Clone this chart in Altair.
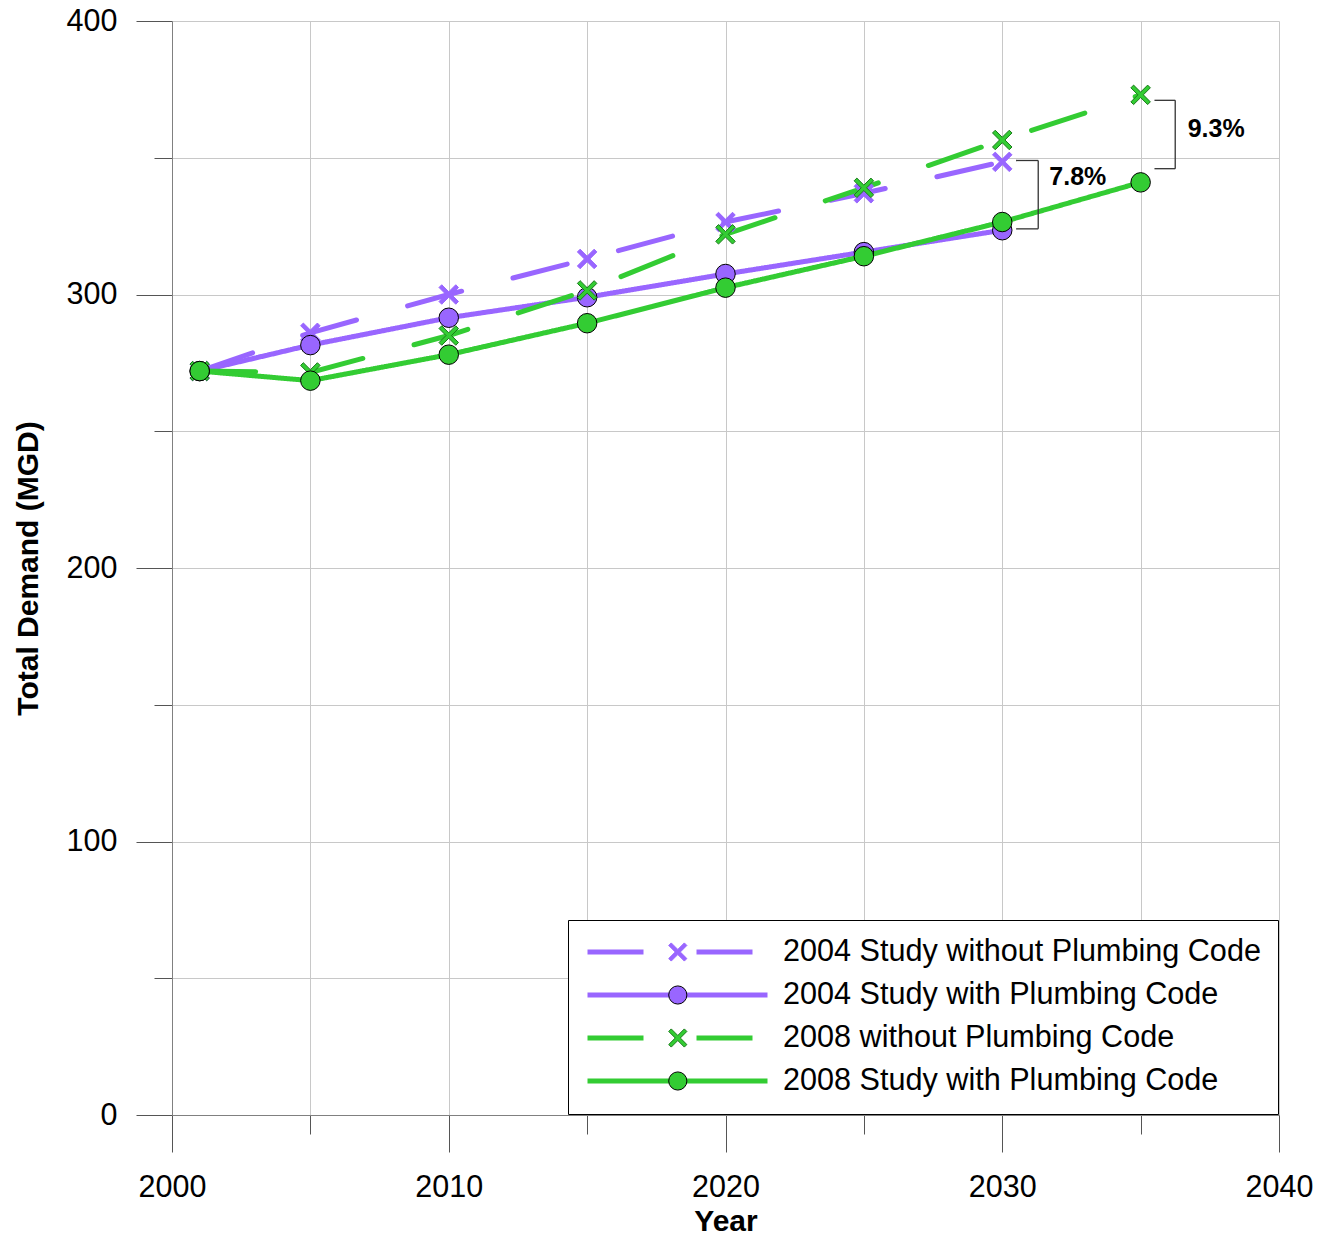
import altair as alt
import pandas as pd

FONT = "Liberation Sans"

years = [2001, 2005, 2010, 2015, 2020, 2025, 2030, 2035]

series_names = [
    "2004 Study without Plumbing Code",
    "2004 Study with Plumbing Code",
    "2008 without Plumbing Code",
    "2008 Study with Plumbing Code",
]

demand_2004_without = [272, 286, 300, 313, 326.5, 337, 348.5, None]
demand_2004_with = [272, 281.5, 291.5, 299, 307.5, 315.5, 323.5, None]
demand_2008_without = [272, 271.5, 285, 301.5, 322, 339, 356.5, 373]
demand_2008_with = [272, 268.5, 278, 289.5, 302.5, 314, 326.5, 341]

bracket_labels = ["7.8%", "9.3%"]
bracket_top = [349, 371]
bracket_bottom = [324, 346]
bracket_left = [2030.5, 2035.5]
bracket_right = [2031.3, 2036.25]
label_year = [2031.7, 2036.7]
label_demand = [343, 360.5]

purple = "#9966ff"
green = "#33cc33"
dark_green = "#1a7a1a"
x_path = ("M-0.72,-1L0,-0.28L0.72,-1L1,-0.72L0.28,0L1,0.72L0.72,1L0,0.28"
          "L-0.72,1L-1,0.72L-0.28,0L-1,-0.72Z")

all_series = [demand_2004_without, demand_2004_with, demand_2008_without, demand_2008_with]
rows = []
for name, vals in zip(series_names, all_series):
    for yr, v in zip(years, vals):
        if v is not None:
            rows.append({"series": name, "marker": name + " marker", "year": yr, "demand": v})
df = pd.DataFrame(rows)
marker_names = [n + " marker" for n in series_names]

seg_rows = []
for t, b, l, r in zip(bracket_top, bracket_bottom, bracket_left, bracket_right):
    seg_rows.append({"year": r, "year2": r, "demand": b, "demand2": t})
    seg_rows.append({"year": l, "year2": r, "demand": t, "demand2": t})
    seg_rows.append({"year": l, "year2": r, "demand": b, "demand2": b})
seg_df = pd.DataFrame(seg_rows)
lab_df = pd.DataFrame({"year": label_year, "demand": label_demand, "text": bracket_labels})

x_axis = alt.Axis(
    values=list(range(2000, 2041, 5)),
    tickSize={"condition": {"test": "datum.value % 10 === 0", "value": 37}, "value": 19},
    labelExpr="datum.value % 10 === 0 ? datum.label : ''",
    format="d", labelFlush=False, labelOverlap=False,
    labelFontSize=30.5, labelFont=FONT, labelColor="black", labelPadding=20,
    tickColor="#555555", domainColor="#808080", gridColor="#c8c8c8", grid=True,
    title="Year", titleFontSize=30, titleFont=FONT, titleFontWeight="bold",
    titleColor="black", titlePadding=4,
)
y_axis = alt.Axis(
    values=list(range(0, 401, 50)),
    tickSize={"condition": {"test": "datum.value % 100 === 0", "value": 36}, "value": 18},
    labelExpr="datum.value % 100 === 0 ? datum.label : ''",
    labelOverlap=False, labelFlush=False,
    labelFontSize=30.5, labelFont=FONT, labelColor="black", labelPadding=19,
    tickColor="#555555", domainColor="#808080", gridColor="#c8c8c8", grid=True,
    title="Total Demand (MGD)", titleFontSize=30, titleFont=FONT, titleFontWeight="bold",
    titleColor="black", titlePadding=23,
)
x_scale = alt.Scale(domain=[2000, 2040], nice=False, zero=False)
y_scale = alt.Scale(domain=[0, 400], nice=False)

X = alt.X("year:Q", scale=x_scale, axis=x_axis)
Y = alt.Y("demand:Q", scale=y_scale, axis=y_axis)

leg_lines = alt.Legend(
    orient="none", legendX=396, legendY=899, title=None,
    symbolType="stroke", symbolSize=32400, symbolStrokeWidth=5, clipHeight=30,
    padding=17, rowPadding=12, labelOffset=13, labelLimit=800,
    labelFontSize=30.6, labelFont=FONT, labelColor="black",
    strokeColor="black", fillColor="white", zindex=1,
)
leg_marks = alt.Legend(
    orient="none", legendX=396, legendY=899, title=None,
    symbolSize=330, symbolStrokeWidth=1, clipHeight=30, symbolOffset=77.5,
    padding=17, rowPadding=12, labelOffset=13, labelLimit=800,
    labelFontSize=30.6, labelFont=FONT, labelExpr="''", zindex=2,
)

lines = alt.Chart(df).mark_line(strokeWidth=5, strokeCap="round").encode(
    x=X, y=Y,
    color=alt.Color("series:N", scale=alt.Scale(domain=series_names, range=[purple, purple, green, green]), legend=leg_lines),
    strokeDash=alt.StrokeDash("series:N", scale=alt.Scale(domain=series_names, range=[[56, 53], [1, 0], [56, 53], [1, 0]]), legend=leg_lines),
)

points = alt.Chart(df).mark_point(filled=True, size=380, opacity=1, strokeWidth=1).encode(
    x=X, y=Y,
    shape=alt.Shape("marker:N", scale=alt.Scale(domain=marker_names, range=[x_path, "circle", x_path, "circle"]), legend=leg_marks),
    fill=alt.Fill("marker:N", scale=alt.Scale(domain=marker_names, range=[purple, purple, green, green]), legend=leg_marks),
    stroke=alt.Stroke("marker:N", scale=alt.Scale(domain=marker_names, range=[purple, "black", dark_green, "black"]), legend=leg_marks),
)

brackets = alt.Chart(seg_df).mark_rule(color="#333333", strokeWidth=1.3).encode(
    x=X, x2="year2:Q", y=Y, y2="demand2:Q",
)

labels = alt.Chart(lab_df).mark_text(
    align="left", baseline="middle", fontSize=25, fontWeight="bold", font=FONT, color="black"
).encode(x=X, y=Y, text="text:N")

chart = alt.layer(lines, points, brackets, labels).properties(
    width=1107, height=1094,
    autosize=alt.AutoSizeParams(type="none"),
    padding={"left": 172, "top": 21, "right": 55, "bottom": 124},
    background="white",
).configure_view(strokeWidth=0)

chart.save("out.html", embed_options={"renderer": "svg", "actions": False})
